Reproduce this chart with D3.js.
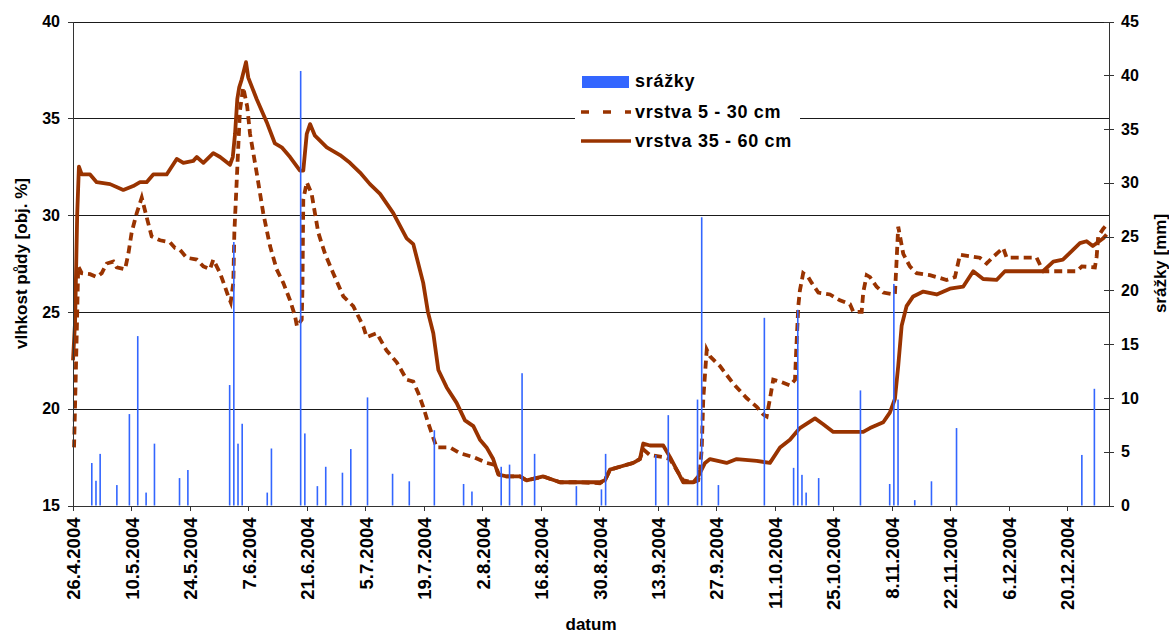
<!DOCTYPE html>
<html>
<head>
<meta charset="utf-8">
<script src="https://cdn.jsdelivr.net/npm/d3@7"></script>
<style>
  body { margin: 0; background: #fff; }
  text { font-family: Arial, "Liberation Sans", sans-serif; font-weight: bold; fill: #000; }
</style>
</head>
<body>
<svg id="chart"></svg>
<script>
// x tick labels (every 14 days)
const tickLabels = ["26.4.2004", "10.5.2004", "24.5.2004", "7.6.2004", "21.6.2004", "5.7.2004",
  "19.7.2004", "2.8.2004", "16.8.2004", "30.8.2004", "13.9.2004", "27.9.2004", "11.10.2004",
  "25.10.2004", "8.11.2004", "22.11.2004", "6.12.2004", "20.12.2004"];

// daily precipitation [mm]
const srazky = [
  ["30.4", 3.95], ["1.5", 2.3], ["2.5", 4.8], ["6.5", 1.9], ["9.5", 8.5], ["11.5", 15.75],
  ["13.5", 1.2], ["15.5", 5.75], ["21.5", 2.55], ["23.5", 3.3], ["2.6", 11.2], ["3.6", 24.5],
  ["4.6", 5.75], ["5.6", 7.6], ["11.6", 1.2], ["12.6", 5.3], ["19.6", 40.4], ["20.6", 6.7],
  ["23.6", 1.8], ["25.6", 3.6], ["29.6", 3.05], ["1.7", 5.25], ["5.7", 10.05], ["11.7", 2.95],
  ["15.7", 2.25], ["21.7", 7.0], ["28.7", 2.0], ["30.7", 1.3], ["6.8", 3.6], ["8.8", 3.8],
  ["11.8", 12.3], ["14.8", 4.8], ["24.8", 1.8], ["30.8", 1.5], ["31.8", 4.8], ["12.9", 4.7],
  ["15.9", 8.4], ["22.9", 9.85], ["23.9", 26.8], ["27.9", 1.9], ["8.10", 17.45], ["15.10", 3.5],
  ["16.10", 18.2], ["17.10", 2.85], ["18.10", 1.2], ["21.10", 2.55], ["31.10", 10.7], ["7.11", 2.0],
  ["8.11", 20.6], ["9.11", 9.85], ["13.11", 0.5], ["17.11", 2.25], ["23.11", 7.2], ["23.12", 4.7],
  ["26.12", 10.85]
];

// soil moisture 5 - 30 cm [obj. %], "day.month hour"
const vrstva5_30 = [
  ["26.4 06", 18.0], ["26.4 14", 21.0], ["26.4 23", 24.5], ["27.4 06", 27.35], ["28.4 02", 27.0],
  ["30.4 02", 26.95], ["1.5 16", 26.8], ["2.5 21", 27.0], ["4.5 02", 27.5], ["5.5 16", 27.6],
  ["6.5 11", 27.3], ["8.5 11", 27.2], ["9.5 06", 28.0], ["10.5 01", 29.1], ["11.5 06", 30.1],
  ["12.5 11", 30.9], ["13.5 15", 29.9], ["14.5 20", 28.9], ["16.5 20", 28.7], ["19.5 05", 28.6],
  ["20.5 10", 28.3], ["21.5 15", 28.2], ["23.5 05", 27.8], ["25.5 15", 27.7], ["27.5 05", 27.35],
  ["28.5 19", 27.2], ["29.5 14", 27.7], ["31.5 05", 27.0], ["1.6 09", 26.3], ["2.6 04", 25.8],
  ["2.6 18", 25.5], ["3.6 09", 26.5], ["3.6 15", 29.1], ["4.6 04", 31.65], ["4.6 23", 35.4],
  ["5.6 18", 36.6], ["6.6 17", 35.6], ["7.6 09", 34.2], ["8.6 23", 32.2], ["10.6 13", 30.1],
  ["12.6 04", 28.4], ["13.6 18", 27.2], ["15.6 08", 26.5], ["16.6 23", 25.6], ["18.6 03", 24.8],
  ["18.6 15", 24.25], ["19.6 18", 24.6], ["19.6 22", 26.1], ["20.6 03", 30.8], ["20.6 23", 31.7],
  ["22.6 03", 31.1], ["23.6 17", 29.1], ["25.6 08", 28.0], ["27.6 07", 27.0], ["29.6 17", 25.8],
  ["2.7 02", 25.3], ["4.7 12", 24.25], ["5.7 07", 23.7], ["7.7 17", 23.9], ["10.7 02", 23.0],
  ["12.7 12", 22.4], ["14.7 21", 21.5], ["16.7 11", 21.4], ["17.7 16", 20.8], ["18.7 20", 20.1],
  ["20.7 01", 19.25], ["22.7 01", 18.0], ["25.7 06", 18.0], ["27.7 15", 17.7], ["30.7 20", 17.5],
  ["3.8 00", 17.2], ["5.8 00", 17.1], ["5.8 23", 16.6], ["7.8 19", 16.5], ["11.8 00", 16.5],
  ["12.8 14", 16.3], ["16.8 14", 16.5], ["20.8 14", 16.2], ["25.8 09", 16.2], ["30.8 03", 16.15],
  ["31.8 08", 16.3], ["1.9 13", 16.85], ["3.9 22", 17.0], ["7.9 03", 17.2], ["8.9 17", 17.4],
  ["9.9 12", 17.9], ["11.9 03", 17.6], ["14.9 07", 17.5], ["15.9 22", 17.4], ["17.9 21", 16.7],
  ["19.9 02", 16.3], ["21.9 12", 16.2], ["22.9 16", 16.3], ["23.9 02", 16.85], ["23.9 12", 17.9],
  ["23.9 21", 20.5], ["24.9 17", 23.05], ["25.9 12", 22.7], ["27.9 21", 22.2], ["1.10 01", 21.3],
  ["4.10 06", 20.55], ["6.10 16", 20.1], ["8.10 06", 19.7], ["9.10 01", 19.6], ["9.10 20", 20.5],
  ["10.10 15", 21.5], ["12.10 06", 21.4], ["14.10 15", 21.2], ["15.10 20", 21.5], ["16.10 03", 23.0],
  ["16.10 15", 25.3], ["17.10 00", 26.1], ["17.10 19", 27.0], ["19.10 00", 26.8], ["19.10 20", 26.5],
  ["21.10 10", 26.0], ["24.10 05", 25.9], ["26.10 14", 25.6], ["29.10 00", 25.4], ["29.10 19", 25.0],
  ["31.10 19", 25.0], ["1.11 04", 26.0], ["2.11 00", 26.9], ["2.11 19", 26.8], ["4.11 09", 26.3],
  ["5.11 23", 26.0], ["8.11 18", 25.9], ["9.11 04", 27.7], ["9.11 13", 29.4], ["10.11 18", 28.0],
  ["12.11 08", 27.35], ["13.11 23", 27.0], ["17.11 03", 26.9], ["21.11 03", 26.65], ["23.11 03", 26.8],
  ["24.11 08", 27.95], ["29.11 02", 27.8], ["30.11 17", 27.5], ["2.12 07", 27.85], ["4.12 16", 28.3],
  ["5.12 12", 27.8], ["12.12 16", 27.8], ["14.12 06", 27.1], ["22.12 06", 27.1], ["23.12 12", 27.35],
  ["26.12 15", 27.3], ["27.12 01", 27.85], ["27.12 10", 28.9], ["28.12 15", 29.3], ["29.12 10", 29.5]
];

// soil moisture 35 - 60 cm [obj. %]
const vrstva35_60 = [
  ["26.4 00", 22.5], ["26.4 12", 24.5], ["27.4 00", 30.0], ["27.4 10", 32.5], ["28.4 02", 32.1],
  ["30.4 02", 32.1], ["1.5 16", 31.7], ["4.5 21", 31.6], ["8.5 01", 31.3], ["10.5 10", 31.5],
  ["12.5 01", 31.7], ["13.5 15", 31.7], ["15.5 05", 32.1], ["18.5 10", 32.1], ["20.5 20", 32.9],
  ["22.5 10", 32.7], ["24.5 19", 32.8], ["25.5 15", 33.0], ["27.5 05", 32.7], ["29.5 14", 33.2],
  ["31.5 05", 33.0], ["2.6 14", 32.6], ["3.6 06", 33.0], ["3.6 19", 34.2], ["4.6 08", 36.0],
  ["4.6 19", 36.6], ["5.6 09", 37.0], ["6.6 10", 37.9], ["6.6 23", 37.1], ["8.6 23", 36.0],
  ["11.6 09", 34.8], ["13.6 08", 33.7], ["14.6 23", 33.5], ["16.6 23", 33.0], ["19.6 08", 32.3],
  ["20.6 03", 32.3], ["20.6 23", 34.2], ["21.6 18", 34.7], ["22.6 22", 34.1], ["25.6 18", 33.5],
  ["28.6 22", 33.1], ["1.7 07", 32.7], ["3.7 17", 32.2], ["6.7 02", 31.6], ["8.7 12", 31.1],
  ["11.7 16", 30.1], ["14.7 21", 28.8], ["16.7 11", 28.5], ["18.7 20", 26.5], ["19.7 23", 25.0],
  ["21.7 06", 23.9], ["22.7 11", 22.0], ["24.7 11", 21.1], ["26.7 20", 20.3], ["28.7 20", 19.4],
  ["30.7 20", 19.1], ["1.8 10", 18.4], ["3.8 00", 18.0], ["4.8 14", 17.4], ["5.8 19", 16.6],
  ["7.8 19", 16.5], ["11.8 00", 16.5], ["12.8 14", 16.3], ["16.8 14", 16.5], ["20.8 14", 16.2],
  ["25.8 09", 16.2], ["30.8 03", 16.2], ["31.8 08", 16.3], ["1.9 13", 16.85], ["3.9 22", 17.0],
  ["7.9 03", 17.2], ["8.9 17", 17.4], ["9.9 12", 18.2], ["11.9 03", 18.1], ["14.9 07", 18.1],
  ["15.9 22", 17.5], ["17.9 21", 16.7], ["19.9 02", 16.2], ["21.9 12", 16.2], ["22.9 16", 16.5],
  ["24.9 07", 17.2], ["25.9 12", 17.4], ["29.9 11", 17.2], ["1.10 21", 17.4], ["6.10 16", 17.3],
  ["9.10 20", 17.2], ["12.10 06", 18.0], ["14.10 15", 18.4], ["17.10 00", 19.0], ["20.10 15", 19.5],
  ["22.10 14", 19.2], ["25.10 00", 18.8], ["1.11 04", 18.8], ["2.11 19", 19.0], ["5.11 23", 19.3],
  ["7.11 13", 19.8], ["8.11 18", 20.5], ["9.11 13", 22.2], ["10.11 09", 24.3], ["11.11 13", 25.3],
  ["13.11 03", 25.8], ["15.11 13", 26.05], ["18.11 18", 25.9], ["21.11 22", 26.2], ["25.11 02", 26.3],
  ["27.11 12", 27.1], ["29.11 21", 26.7], ["3.12 02", 26.65], ["5.12 02", 27.1], ["14.12 05", 27.1],
  ["16.12 16", 27.6], ["18.12 23", 27.7], ["21.12 09", 28.2], ["23.12 01", 28.55], ["24.12 15", 28.65],
  ["26.12 03", 28.4], ["28.12 15", 28.8], ["29.12 10", 29.0]
];

const leftTicks = [15, 20, 25, 30, 35, 40];
const rightTicks = [0, 5, 10, 15, 20, 25, 30, 35, 40, 45];

const width = 1169, height = 635;
const margin = {top: 21.5, right: 60, bottom: 129.5, left: 73};
const brown = "#993300", blue = "#3366FF";

const parseFull = d3.utcParse("%d.%m.%Y %H");
const t = s => {
  const [dm, h] = s.split(" ");
  return parseFull(dm + ".2004 " + (h || "00"));
};
const parseLabel = d3.utcParse("%d.%m.%Y");

const x = d3.scaleUtc()
  .domain([parseLabel("26.4.2004"), parseLabel("30.12.2004")])
  .range([margin.left, width - margin.right]);
const y = d3.scaleLinear().domain([15, 40]).range([height - margin.bottom, margin.top]);
const y2 = d3.scaleLinear().domain([0, 45]).range([height - margin.bottom, margin.top]);

const svg = d3.select("#chart").attr("width", width).attr("height", height);

// gridlines
svg.append("g")
  .selectAll("line")
  .data(leftTicks.slice(1))
  .enter().append("line")
  .attr("x1", margin.left).attr("x2", width - margin.right)
  .attr("y1", d => Math.round(y(d)) + 0.5).attr("y2", d => Math.round(y(d)) + 0.5)
  .attr("stroke", "#1a1a1a").attr("stroke-width", 1);

// lines
const line = d3.line()
  .x(d => x(t(d[0])))
  .y(d => y(d[1]));

svg.append("path")
  .datum(vrstva5_30)
  .attr("d", line)
  .attr("fill", "none")
  .attr("stroke", brown)
  .attr("stroke-width", 3.8)
  .attr("stroke-dasharray", "8,5");

svg.append("path")
  .datum(vrstva35_60)
  .attr("d", line)
  .attr("fill", "none")
  .attr("stroke", brown)
  .attr("stroke-width", 3.8)
  .attr("stroke-linejoin", "round");

// precipitation bars (secondary axis)
svg.append("g")
  .selectAll("rect")
  .data(srazky)
  .enter().append("rect")
  .attr("x", d => x(d3.utcHour.offset(t(d[0]), 12)) - 0.8)
  .attr("width", 1.6)
  .attr("y", d => y2(d[1]))
  .attr("height", d => y2(0) - y2(d[1]))
  .attr("fill", blue);

// legend
const legend = svg.append("g");
legend.append("rect").attr("x", 575).attr("y", 62).attr("width", 225).attr("height", 96).attr("fill", "#fff");
legend.append("rect").attr("x", 582).attr("y", 76).attr("width", 47).attr("height", 12).attr("fill", blue);
legend.append("line").attr("x1", 581).attr("x2", 631).attr("y1", 112).attr("y2", 112)
  .attr("stroke", brown).attr("stroke-width", 3.5).attr("stroke-dasharray", "8,14");
legend.append("line").attr("x1", 581).attr("x2", 631).attr("y1", 141).attr("y2", 141)
  .attr("stroke", brown).attr("stroke-width", 3.5);
legend.selectAll("text")
  .data([["srážky", 87], ["vrstva 5 - 30 cm", 118], ["vrstva 35 - 60 cm", 147]])
  .enter().append("text")
  .attr("x", 635).attr("y", d => d[1])
  .style("font-size", "18px").style("letter-spacing", "0.7px")
  .text(d => d[0]);

// axes
const styleAxis = g => {
  g.selectAll(".domain").attr("stroke", "#333").attr("shape-rendering", "crispEdges");
  g.selectAll(".tick line").attr("stroke", "#333").attr("shape-rendering", "crispEdges");
  g.selectAll("text").style("font-size", "16px").attr("font-family", null);
};

svg.append("g")
  .attr("transform", `translate(${margin.left},0)`)
  .call(d3.axisLeft(y).tickValues(leftTicks).tickSize(5).tickSizeOuter(0).tickPadding(8))
  .call(styleAxis);

svg.append("g")
  .attr("transform", `translate(${width - margin.right},0)`)
  .call(d3.axisRight(y2).tickValues(rightTicks).tickSize(5).tickSizeOuter(0).tickPadding(7))
  .call(styleAxis)
  .call(g => g.selectAll(".tick line").attr("x1", -5));

const tickDates = tickLabels.map(parseLabel);
svg.append("g")
  .attr("transform", `translate(0,${height - margin.bottom})`)
  .call(d3.axisBottom(x).tickValues(tickDates).tickSize(5).tickSizeOuter(0)
    .tickFormat((d, i) => tickLabels[i]))
  .call(styleAxis)
  .call(g => g.selectAll("text")
    .style("font-size", "18.5px")
    .attr("transform", "rotate(-90)")
    .attr("x", -12).attr("y", 0).attr("dy", "0.36em")
    .style("text-anchor", "end"));

// axis titles
svg.append("text")
  .attr("x", (margin.left + width - margin.right) / 2).attr("y", 630)
  .attr("text-anchor", "middle").style("font-size", "17px")
  .text("datum");

svg.append("text")
  .attr("transform", `translate(27,${(margin.top + height - margin.bottom) / 2}) rotate(-90)`)
  .attr("text-anchor", "middle").style("font-size", "17px")
  .text("vlhkost půdy [obj. %]");

svg.append("text")
  .attr("transform", `translate(1166,${(margin.top + height - margin.bottom) / 2}) rotate(-90)`)
  .attr("text-anchor", "middle").style("font-size", "17px")
  .text("srážky [mm]");
</script>
</body>
</html>
